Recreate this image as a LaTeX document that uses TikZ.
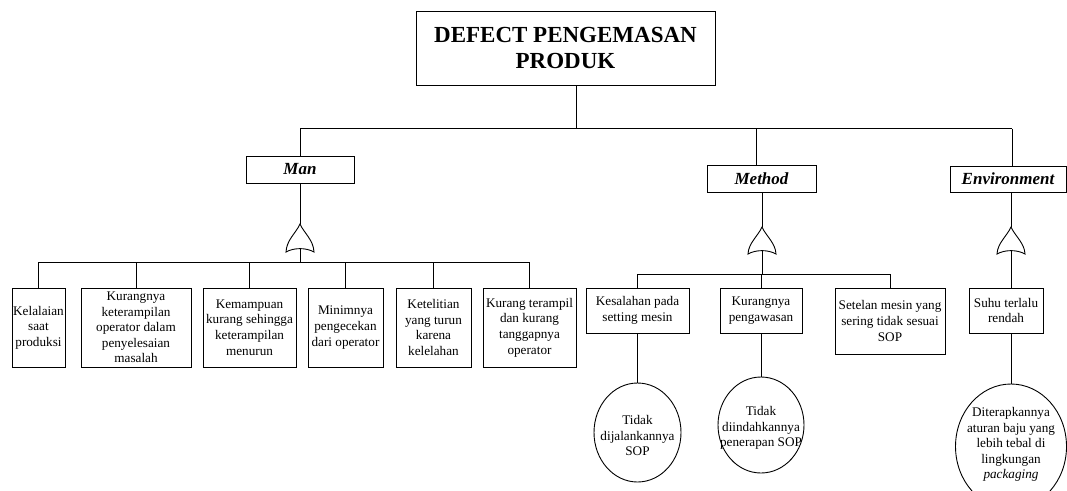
\documentclass[tikz,border=0pt]{standalone}
\usepackage{fontspec}
\setmainfont{Liberation Serif}
\usetikzlibrary{shapes.geometric,calc}
\tikzset{
  ln/.style={line width=0.9pt, black},
  box/.style={draw, ln, rectangle, inner sep=0pt, align=center, font=\fontsize{13.2}{15.6}\selectfont},
  titlebox/.style={draw, ln, rectangle, inner sep=0pt, align=center, font=\fontsize{23}{26.7}\selectfont\bfseries},
  catbox/.style={draw, ln, rectangle, inner sep=0pt, align=center, font=\fontsize{17}{20}\selectfont\bfseries\itshape},
  oval/.style={draw, ln, ellipse, inner sep=0pt},
  ovaltext/.style={inner sep=0pt, align=center, font=\fontsize{13.2}{15.6}\selectfont},
  orgate/.pic={
    \draw[ln] (0,0) .. controls (4,9) and (13.5,16) .. (14,#1)
      .. controls (6,#1-4.5) and (-6,#1-4.5) .. (-14,#1)
      .. controls (-13.5,16) and (-4,9) .. (0,0) -- cycle;
    \coordinate (-top) at (0,0);
    \coordinate (-bot) at (0,#1-3.4);
  }
}
\begin{document}
\begin{tikzpicture}[x=1pt,y=-1pt]
\useasboundingbox (0,0) rectangle (1067,490);

% top event
\node[titlebox, minimum width=299, minimum height=74] (top) at (565.5,48) {DEFECT PENGEMASAN\\PRODUK};

% categories
\node[catbox, minimum width=108, minimum height=27] (man) at (300,169.5) {Man};
\node[catbox, minimum width=109, minimum height=27] (method) at (761.5,178.5) {Method};
\node[catbox, minimum width=116, minimum height=26] (env) at (1008,179) {Environment};

% gates
\pic (g1) at (300,224) {orgate=28};
\pic (g2) at (762,227) {orgate=27};
\pic (g3) at (1011,227) {orgate=27};

% Man causes
\node[box, minimum width=53, minimum height=79] (b1) at (38.5,327.5) {Kelalaian\\saat\\produksi};
\node[box, minimum width=110, minimum height=79] (b2) at (136,327.5) {Kurangnya\\keterampilan\\operator dalam\\penyelesaian\\masalah};
\node[box, minimum width=93, minimum height=79] (b3) at (249.5,327.5) {Kemampuan\\kurang sehingga\\keterampilan\\menurun};
\node[box, minimum width=75, minimum height=79] (b4) at (345.5,327.5) {Minimnya\\pengecekan\\dari operator};
\node[box, minimum width=75, minimum height=79] (b5) at (433.5,327.5) {Ketelitian\\yang turun\\karena\\kelelahan};
\node[box, minimum width=93, minimum height=79] (b6) at (529.5,327.5) {Kurang terampil\\dan kurang\\tanggapnya\\operator};

% Method causes
\node[box, minimum width=103, minimum height=45] (m1) at (637.5,310.5) {Kesalahan pada\\setting mesin};
\node[box, minimum width=82, minimum height=45] (m2) at (761,310.5) {Kurangnya\\pengawasan};
\node[box, minimum width=110, minimum height=66] (m3) at (890,321) {Setelan mesin yang\\sering tidak sesuai\\SOP};

% Environment cause
\node[box, minimum width=74, minimum height=45] (e1) at (1006,310.5) {Suhu terlalu\\rendah};

% basic events
\node[oval, minimum width=87, minimum height=99] (c1) at (637.5,432.5) {};
\node[ovaltext] (c1t) at ($(c1.center)+(0,3)$) {Tidak\\dijalankannya\\SOP};
\node[oval, minimum width=86, minimum height=96] (c2) at (761,425) {};
\node[ovaltext] (c2t) at ($(c2.center)+(0,3)$) {Tidak\\diindahkannya\\penerapan SOP};
\node[oval, minimum width=111, minimum height=125] (c3) at (1011,446.5) {};
\node[ovaltext] (c3t) at ($(c3.center)+(0,-2)$) {Diterapkannya\\aturan baju yang\\lebih tebal di\\lingkungan\\\textit{packaging}};

% junction coordinates
\coordinate (tj) at (576,128.5);
\coordinate (mj) at (756,128.5);
\coordinate (ej) at (1012,128.5);
\coordinate (manbar) at (300,262);
\coordinate (methbar) at (762,274);

% connectors: top level
\draw[ln] (top.south -| tj) -- (tj);
\draw[ln] (man.north |- tj) -- (ej);
\draw[ln] (man.north |- tj) -- (man.north);
\draw[ln] (mj) -- (mj |- method.north);
\draw[ln] (ej) -- (ej |- env.north);

% Man branch
\draw[ln] (man.south) -- (g1-top);
\draw[ln] (g1-bot) -- (manbar);
\draw[ln] (b1.north |- manbar) -- (b6.north |- manbar);
\foreach \b in {b1,b2,b3,b4,b5,b6} \draw[ln] (\b.north |- manbar) -- (\b.north);

% Method branch
\draw[ln] (method.south -| g2-top) -- (g2-top);
\draw[ln] (g2-bot) -- (methbar);
\draw[ln] (m1.north |- methbar) -- (m3.north |- methbar);
\foreach \b in {m1,m2,m3} \draw[ln] (\b.north |- methbar) -- (\b.north);
\draw[ln] (m1.south) -- (c1.north);
\draw[ln] (m2.south) -- (c2.north);

% Environment branch
\draw[ln] (env.south -| g3-top) -- (g3-top);
\draw[ln] (g3-bot) -- (g3-bot |- e1.north);
\draw[ln] (e1.south -| c3.north) -- (c3.north);
\end{tikzpicture}
\end{document}
